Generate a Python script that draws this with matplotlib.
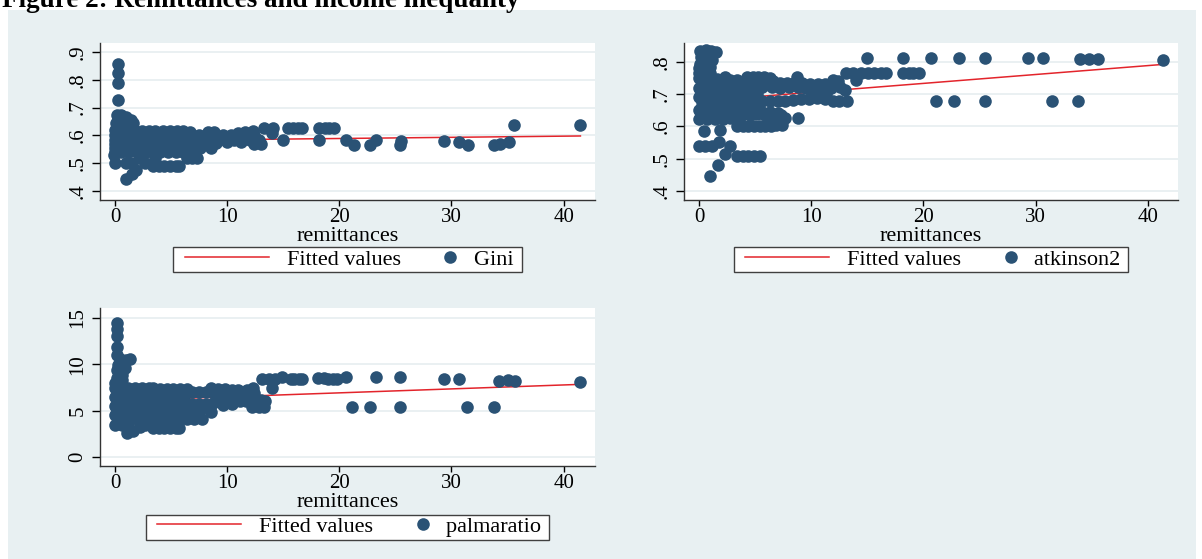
import numpy as np
import matplotlib.pyplot as plt
from matplotlib.patches import Rectangle
from matplotlib.lines import Line2D
from matplotlib.legend_handler import HandlerLine2D, HandlerPathCollection

# (remittances, value) pairs
gini_pts = [
    (0.3, 0.856), (0.3, 0.823), (0.3, 0.787), (0.3, 0.727), (0.2, 0.675), (0.5, 0.672),
    (0.3, 0.658), (0.1, 0.645), (0.4, 0.635), (1.0, 0.665), (1.4, 0.655), (1.6, 0.645), (0.9, 0.64),
    (0.0, 0.62), (0.0, 0.60), (0.0, 0.585), (0.0, 0.57), (0.0, 0.555), (0.0, 0.54), (-0.1, 0.528),
    (0.0, 0.50), (1.0, 0.50), (1.5, 0.50), (2.7, 0.50), (2.2, 0.52), (3.6, 0.518),
    (3.4, 0.49), (3.9, 0.49), (4.4, 0.49), (4.9, 0.49), (5.4, 0.49), (5.7, 0.49),
    (1.9, 0.476), (1.5, 0.461), (1.0, 0.442),
    (6.4, 0.518), (6.9, 0.518), (7.3, 0.518), (8.6, 0.555),
    (0.6, 0.615), (1.2, 0.615), (1.8, 0.615), (2.4, 0.615), (3.0, 0.615), (3.6, 0.615), (4.3, 0.615),
    (4.9, 0.615), (5.5, 0.615), (6.1, 0.615), (6.7, 0.612), (8.3, 0.613), (8.8, 0.613), (11.0, 0.61),
    (11.6, 0.612), (12.3, 0.615),
    (0.5, 0.60), (1.2, 0.60), (1.9, 0.60), (2.6, 0.60), (3.3, 0.60), (4.0, 0.60), (4.7, 0.60), (5.4, 0.60),
    (6.1, 0.60), (6.8, 0.60), (7.5, 0.60), (8.2, 0.60), (8.9, 0.60), (9.6, 0.60), (10.3, 0.60),
    (11.0, 0.598), (11.7, 0.598), (12.4, 0.60),
    (0.8, 0.585), (1.5, 0.585), (2.2, 0.585), (2.9, 0.585), (3.6, 0.585), (4.3, 0.585), (5.0, 0.585),
    (5.7, 0.585), (6.4, 0.585), (7.1, 0.585), (7.8, 0.585), (8.5, 0.585), (9.2, 0.585), (9.9, 0.585),
    (10.6, 0.585), (11.3, 0.585), (12.0, 0.585), (12.8, 0.585),
    (0.5, 0.57), (1.2, 0.57), (1.9, 0.57), (2.6, 0.57), (3.3, 0.57), (4.0, 0.57), (4.7, 0.57), (5.4, 0.57),
    (6.1, 0.57), (6.8, 0.57), (7.5, 0.57), (8.2, 0.568), (9.0, 0.572), (10.0, 0.575), (11.2, 0.575),
    (12.4, 0.568), (13.0, 0.568),
    (0.6, 0.555), (1.3, 0.555), (2.0, 0.555), (2.7, 0.555), (3.4, 0.555), (4.1, 0.555), (4.8, 0.555),
    (5.5, 0.555), (6.2, 0.555), (6.9, 0.555), (7.6, 0.555),
    (0.5, 0.54), (1.2, 0.54), (2.0, 0.54), (2.8, 0.54), (4.0, 0.54), (4.7, 0.54), (5.4, 0.54), (6.1, 0.54),
    (13.3, 0.628), (14.1, 0.628), (14.0, 0.607), (15.0, 0.583), (15.4, 0.628), (15.9, 0.628), (16.3, 0.628),
    (16.7, 0.628), (18.2, 0.583), (18.2, 0.628), (18.7, 0.628), (19.1, 0.628), (19.5, 0.628), (20.6, 0.583),
    (21.3, 0.565), (22.7, 0.565), (23.3, 0.583), (25.4, 0.565), (25.5, 0.58), (29.3, 0.581), (30.7, 0.578),
    (31.5, 0.565), (33.8, 0.565), (34.3, 0.57), (35.1, 0.575), (35.6, 0.637), (41.5, 0.637),
]

atk_pts = [
    (0.1, 0.835), (0.6, 0.836), (1.1, 0.835), (1.5, 0.830), (0.2, 0.815), (0.8, 0.815), (1.2, 0.805),
    (0.1, 0.795), (0.6, 0.795), (0.0, 0.78), (0.5, 0.78), (1.0, 0.785), (0.0, 0.765), (0.5, 0.765),
    (1.0, 0.765), (0.0, 0.750), (0.5, 0.750), (1.0, 0.750), (1.6, 0.748), (0.3, 0.745), (1.0, 0.740),
    (2.3, 0.755), (4.3, 0.752), (4.8, 0.752), (5.3, 0.752), (5.8, 0.752), (6.3, 0.750), (8.7, 0.752),
    (2.8, 0.745), (6.6, 0.742), (11.9, 0.745), (12.4, 0.740), (3.4, 0.745), (4.6, 0.740), (5.6, 0.738),
    (0.5, 0.735), (1.3, 0.735), (2.0, 0.735), (3.0, 0.735), (3.6, 0.730), (4.2, 0.732), (5.0, 0.735),
    (7.2, 0.735), (7.8, 0.735), (8.5, 0.735), (9.2, 0.735), (9.9, 0.733), (10.6, 0.733), (11.2, 0.732),
    (12.2, 0.730),
    (0.0, 0.720), (0.7, 0.720), (1.4, 0.720), (2.1, 0.720), (2.8, 0.720), (3.5, 0.720), (4.2, 0.718),
    (4.9, 0.720), (5.6, 0.722), (6.5, 0.722), (7.2, 0.720), (8.0, 0.722), (8.8, 0.724), (9.5, 0.720),
    (10.3, 0.720), (11.0, 0.720), (11.8, 0.718), (12.6, 0.722), (13.0, 0.712),
    (0.3, 0.705), (1.0, 0.705), (1.7, 0.705), (2.4, 0.705), (3.1, 0.705), (3.8, 0.705), (4.5, 0.702),
    (5.2, 0.700), (10.0, 0.712), (10.6, 0.706), (11.3, 0.702),
    (0.0, 0.690), (0.7, 0.690), (1.4, 0.690), (2.1, 0.690), (2.8, 0.690), (3.5, 0.690), (4.2, 0.688),
    (4.9, 0.686), (5.6, 0.680), (6.3, 0.680), (7.0, 0.680), (7.7, 0.680), (8.4, 0.682), (9.1, 0.684),
    (9.8, 0.686), (10.5, 0.688), (11.2, 0.686), (11.9, 0.680), (12.5, 0.680), (13.2, 0.680),
    (0.3, 0.675), (1.0, 0.675), (1.7, 0.675), (2.4, 0.675), (3.1, 0.675), (3.8, 0.675),
    (0.3, 0.665), (1.0, 0.665), (1.7, 0.665), (2.4, 0.665), (3.1, 0.665), (3.8, 0.665), (4.5, 0.665),
    (5.2, 0.668),
    (0.0, 0.650), (0.7, 0.650), (1.4, 0.650), (2.1, 0.650), (2.8, 0.650), (3.5, 0.650), (4.2, 0.648),
    (4.9, 0.646), (5.6, 0.645), (6.3, 0.645), (7.0, 0.643),
    (0.3, 0.635), (1.0, 0.635), (1.7, 0.635), (2.4, 0.635), (3.1, 0.635), (3.8, 0.637), (4.5, 0.635),
    (5.2, 0.638), (5.9, 0.635), (6.6, 0.635), (7.3, 0.635),
    (0.0, 0.622), (0.7, 0.622), (1.4, 0.622), (2.1, 0.622), (2.8, 0.625), (3.5, 0.625), (6.2, 0.626),
    (7.7, 0.626), (8.8, 0.625),
    (3.4, 0.600), (3.9, 0.600), (4.4, 0.600), (4.9, 0.600), (5.4, 0.600), (5.9, 0.600), (6.4, 0.603),
    (6.9, 0.606), (7.4, 0.606),
    (0.4, 0.587), (1.9, 0.590), (0.0, 0.540), (0.5, 0.540), (1.2, 0.540), (1.8, 0.553), (2.8, 0.540),
    (2.3, 0.515), (3.4, 0.510), (3.9, 0.510), (4.4, 0.510), (4.9, 0.510), (5.4, 0.510), (1.7, 0.480),
    (1.0, 0.445),
    (13.1, 0.767), (13.7, 0.767), (14.4, 0.767), (14.0, 0.743), (15.0, 0.812), (15.1, 0.767), (15.6, 0.767),
    (16.2, 0.767), (16.7, 0.767), (18.2, 0.812), (18.2, 0.767), (18.7, 0.767), (19.1, 0.767), (19.6, 0.767),
    (20.7, 0.812), (21.1, 0.680), (22.7, 0.680), (23.2, 0.812), (25.5, 0.812), (25.5, 0.680), (29.3, 0.812),
    (30.7, 0.812), (31.5, 0.680), (33.8, 0.680), (34.0, 0.810), (34.8, 0.810), (35.6, 0.810), (41.4, 0.807),
]

palma_pts = [
    (0.2, 14.5), (0.2, 13.8), (0.2, 13.05), (0.2, 11.9), (0.2, 11.0), (0.4, 10.6), (1.0, 10.5), (1.3, 10.6),
    (0.3, 9.9), (0.9, 9.6), (0.2, 9.4), (0.6, 8.9), (0.2, 8.5), (0.6, 8.3), (0.0, 8.0),
    (0.0, 7.5), (0.6, 7.5), (1.2, 7.5), (1.8, 7.5), (2.4, 7.5), (3.0, 7.5), (3.4, 7.5), (12.3, 7.5),
    (4.0, 7.35), (4.6, 7.35), (5.2, 7.35), (5.8, 7.35), (6.4, 7.3), (8.6, 7.4), (9.2, 7.3), (9.8, 7.3),
    (10.4, 7.25), (11.0, 7.25), (11.8, 7.2),
    (0.3, 7.0), (0.9, 7.0), (1.5, 7.0), (2.1, 7.0), (2.7, 7.0), (3.3, 7.0), (3.9, 7.0), (4.5, 7.0),
    (5.1, 7.0), (5.7, 7.0), (6.3, 6.95), (6.9, 7.0), (7.5, 7.0), (8.1, 7.0), (8.7, 7.0), (9.3, 6.9),
    (9.9, 6.9), (10.5, 6.9), (11.1, 6.9), (11.7, 6.9), (12.4, 6.95),
    (0.0, 6.5), (0.6, 6.5), (1.2, 6.5), (1.8, 6.5), (2.4, 6.5), (3.0, 6.5), (3.6, 6.5), (4.2, 6.5),
    (4.8, 6.5), (5.4, 6.5), (9.6, 6.5), (10.2, 6.5), (10.8, 6.5), (11.4, 6.5),
    (0.3, 6.0), (0.9, 6.0), (1.5, 6.0), (2.1, 6.0), (2.7, 6.0), (3.3, 6.0), (3.9, 6.0), (4.5, 6.0),
    (5.1, 6.0), (5.7, 6.0), (6.3, 5.8), (6.9, 5.75), (7.5, 5.75), (8.1, 5.75), (8.7, 5.8), (9.3, 6.0),
    (9.9, 6.0), (10.5, 6.0), (11.1, 6.0), (11.7, 6.0), (12.2, 6.1), (13.0, 6.1), (13.4, 6.0),
    (0.0, 5.5), (0.6, 5.5), (1.2, 5.5), (1.8, 5.5), (2.4, 5.5), (3.0, 5.5), (3.6, 5.5), (4.2, 5.5),
    (4.8, 5.5), (5.4, 5.5), (6.0, 5.5), (6.6, 5.3), (7.2, 5.3), (7.8, 5.3), (8.4, 5.4), (9.6, 5.6), (10.4, 5.7),
    (0.3, 5.0), (0.9, 5.0), (1.5, 5.0), (2.1, 5.0), (2.7, 5.0), (3.3, 5.0), (3.9, 5.0), (4.5, 5.0),
    (5.1, 5.0), (5.7, 5.0), (6.3, 5.0), (6.9, 5.0), (7.5, 5.0), (8.6, 4.9),
    (0.0, 4.5), (0.6, 4.5), (1.2, 4.5), (1.8, 4.5), (2.4, 4.5), (3.0, 4.5), (3.6, 4.5), (4.2, 4.5),
    (4.8, 4.5), (5.4, 4.5), (6.0, 4.5), (6.6, 4.5), (7.0, 4.4),
    (0.3, 4.1), (1.0, 4.1), (2.0, 4.1), (3.4, 4.1), (4.0, 4.1), (4.6, 4.1), (5.2, 4.1), (5.8, 4.1),
    (6.4, 4.1), (7.0, 4.1), (7.8, 4.1),
    (0.0, 3.45), (0.6, 3.45), (1.2, 3.45), (1.1, 2.55), (1.6, 2.8), (2.2, 3.2), (2.7, 3.5),
    (3.4, 3.1), (3.9, 3.1), (4.4, 3.1), (4.9, 3.1), (5.4, 3.1), (5.7, 3.1),
    (12.2, 5.4), (12.8, 5.4), (13.3, 5.4),
    (13.1, 8.38), (13.7, 8.38), (14.3, 8.38), (14.0, 7.4), (14.9, 8.6), (15.7, 8.4), (16.0, 8.4),
    (16.4, 8.4), (16.7, 8.4), (18.1, 8.5), (18.6, 8.5), (19.0, 8.45), (19.4, 8.45), (19.8, 8.45),
    (20.6, 8.6), (21.1, 5.36), (22.7, 5.36), (23.3, 8.6), (25.4, 8.6), (25.4, 5.36), (29.3, 8.45),
    (30.7, 8.4), (31.4, 5.36), (33.8, 5.36), (34.2, 8.23), (35.0, 8.35), (35.7, 8.2), (41.5, 8.1),
]

# linear fit (lfit) end points
fit_x = [0, 41.5]
gini_fit = [0.5805, 0.598]
atk_fit = [0.6785, 0.793]
palma_fit = [6.07, 7.84]

gini_ticks = [0.4, 0.5, 0.6, 0.7, 0.8, 0.9]
gini_labels = ['.4', '.5', '.6', '.7', '.8', '.9']
atk_ticks = [0.4, 0.5, 0.6, 0.7, 0.8]
atk_labels = ['.4', '.5', '.6', '.7', '.8']
palma_ticks = [0, 5, 10, 15]
palma_labels = ['0', '5', '10', '15']
x_ticks = [0, 10, 20, 30, 40]

NAVY = '#2a5275'
RED = '#e3242b'
BG = '#e8f0f2'
GRID = '#e6edf0'


class InsetLine(HandlerLine2D):
    def get_xdata(self, legend, xdescent, ydescent, width, height, fontsize):
        x = [-xdescent + 0.4 * fontsize, -xdescent + width]
        return x, x


class RightDot(HandlerPathCollection):
    def get_xdata(self, legend, xdescent, ydescent, width, height, fontsize):
        x = [-xdescent + width - 0.27 * fontsize]
        return x, x


plt.rcParams['font.family'] = ['Liberation Serif', 'DejaVu Serif']

W, H = 1202, 559
fig = plt.figure(figsize=(W / 100, H / 100), dpi=100)
fig.patches.append(Rectangle((8 / W, 0), (1196 - 8) / W, 1 - 10 / H, transform=fig.transFigure,
                             facecolor=BG, edgecolor='none', zorder=-1))
fig.text(2 / W, 1 - 7 / H, 'Figure 2: Remittances and income inequality', fontsize=19.5,
         fontweight='bold', ha='left', va='baseline')


def add_panel(left, top, right, bottom):
    return fig.add_axes([left / W, 1 - bottom / H, (right - left) / W, (bottom - top) / H])


panels = [
    (add_panel(100, 43, 595, 200), gini_pts, gini_fit, 'Gini', (-1.34, 42.8), (0.368, 0.932),
     gini_ticks, gini_labels, 260),
    (add_panel(684, 43, 1178, 200), atk_pts, atk_fit, 'atkinson2', (-1.34, 42.7), (0.372, 0.859),
     atk_ticks, atk_labels, 260),
    (add_panel(100, 308, 595, 466), palma_pts, palma_fit, 'palmaratio', (-1.34, 42.8), (-0.97, 16.08),
     palma_ticks, palma_labels, 527),
]

for ax, pts, fit, name, xlim, ylim, yt, ylab, leg_y in panels:
    pts = np.array(pts)
    ax.set_facecolor('white')
    ax.plot(fit_x, fit, color=RED, lw=1.1, zorder=2)
    sc = ax.scatter(pts[:, 0], pts[:, 1], s=82, color=NAVY, linewidths=0, zorder=3)

    ax.set_xlim(*xlim)
    ax.set_ylim(*ylim)
    ax.set_xticks(x_ticks)
    ax.set_yticks(yt)
    ax.set_yticklabels(ylab)
    ax.tick_params(axis='y', length=6, width=1, pad=3, labelrotation=90, labelsize=15)
    ax.tick_params(axis='x', length=4, width=1, pad=2, labelsize=15)
    for lab in ax.get_yticklabels():
        lab.set_va('center')
    ax.yaxis.grid(True, color=GRID, lw=1.2)
    ax.set_axisbelow(True)
    for s in ['top', 'right']:
        ax.spines[s].set_visible(False)
    for s in ['left', 'bottom']:
        ax.spines[s].set_color('#333333')
        ax.spines[s].set_linewidth(1)
    ax.set_xlabel('remittances', fontsize=16, labelpad=0)

    pos = ax.get_position()
    handle = Line2D([], [], color=RED, lw=1.1)
    ax.legend([handle, sc], ['Fitted values', name + ' '], ncol=2, loc='center',
              bbox_to_anchor=((pos.x0 + pos.x1) / 2, 1 - leg_y / H), bbox_transform=fig.transFigure,
              handler_map={Line2D: InsetLine(), type(sc): RightDot()},
              scatterpoints=1, scatteryoffsets=[0.5], fontsize=16, handlelength=4.2,
              handletextpad=0.8, columnspacing=-1.7, borderpad=0.1, borderaxespad=0,
              frameon=True, fancybox=False, framealpha=1, edgecolor='#404040', facecolor='white')

fig.savefig('out.png', dpi=100, facecolor='white')
